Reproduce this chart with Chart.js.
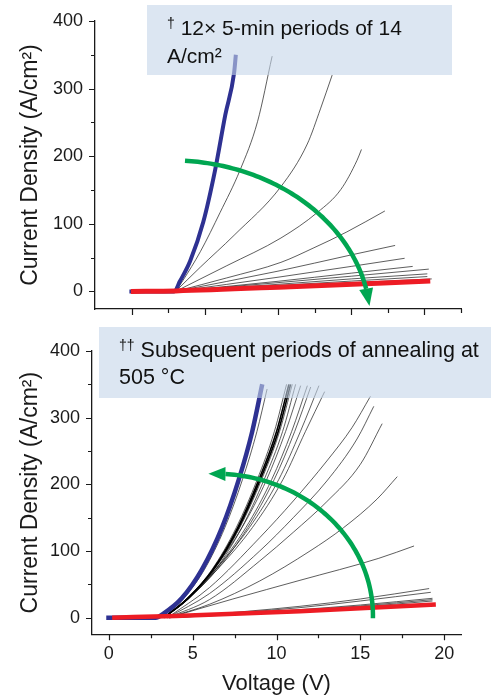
<!DOCTYPE html>
<html lang="en">
<head>
<meta charset="UTF-8">
<title>Current density vs voltage</title>
<script src="https://cdn.jsdelivr.net/npm/chart.js"></script>
<style>
    body { margin: 0; width: 491px; height: 698px; position: relative; overflow: hidden; background: #fff;
           font-family: "Liberation Sans", Arial, sans-serif; }
    .panel { position: absolute; left: 0; width: 491px; }
    #topPanel { top: 0; height: 330px; }
    #bottomPanel { top: 330px; height: 368px; }
    .note { position: absolute; box-sizing: border-box; background: rgba(197, 213, 233, 0.6); color: #111;
            font-size: 21px; line-height: 25px; padding-left: 20px; white-space: nowrap; }
    .note .dag { font-size: 14px; position: relative; top: -7px; }
</style>
</head>
<body>

<div class="panel" id="topPanel"><canvas id="topChart"></canvas></div>
<div class="panel" id="bottomPanel"><canvas id="bottomChart"></canvas></div>

<div class="note" style="left:147px; top:5px; width:305px; height:70px; padding-top:10px;"><span class="dag">†</span> 12× 5-min periods of 14<br>A/cm²</div>
<div class="note" style="left:99px; top:327px; width:392px; height:71px; padding-top:11px; font-size:21.5px;"><span class="dag">††</span> Subsequent periods of annealing at<br>505 °C</div>

<script>
    // tick values
    const xMajor = [0, 5, 10, 15, 20];
    const xMinorTop = [2.5, 7.5, 12.5, 17.5, 22.5];
    const xMinorBottom = [2.5, 7.5, 12.5, 17.5];
    const yMajor = [0, 100, 200, 300, 400];
    const yMinor = [50, 150, 250, 350];

    // top panel: [voltage, current density]
    const topRed = [[-0.05, 0], [3, 0.8], [10.85, 7], [20.4, 15.5]];
    const topBlue = [[-0.15, 0], [2.9, 0], [3.3, 15], [4.0, 45], [4.9, 103], [5.7, 179], [6.4, 261], [7.0, 323], [7.12, 350]];
    const topThin = [
        [[3.0, 0], [3.5, 16], [4.7, 59], [6.05, 117], [7.4, 179], [8.6, 251], [9.6, 348]],
        [[3.0, 0], [4.7, 36], [7.0, 83], [10.2, 155], [12.0, 218], [12.9, 270], [13.7, 320]],
        [[3.0, 0], [6.5, 38], [10.2, 79], [12.7, 117], [14.3, 151], [15.4, 194], [15.7, 210]],
        [[3.0, 0], [6.5, 20], [10.2, 43], [12.4, 64], [14.7, 88], [17.3, 119]],
        [[3.0, 0], [10, 30], [15, 54], [18.0, 68]],
        [[3.0, 0], [10, 21], [15, 37], [18.65, 49]],
        [[3.0, 0], [10, 15], [15, 27], [19.2, 37]],
        [[3.0, 0], [10, 13], [15, 22.5], [20.3, 33]],
        [[3.0, 0], [10, 10.5], [15, 18.5], [20.2, 26]],
        [[3.0, 0], [10, 8.8], [15, 15.3], [20.2, 22]],
        [[3.0, 0], [10, 7.3], [15, 12.7], [20.5, 18.5]]
    ];

    // bottom panel
    const bottomRed = [[0.2, 0], [4, 2.5], [11.4, 9.5], [19.5, 19.7]];
    const bottomBlue = [[-0.15, 0], [2.8, 0], [3.2, 5], [4.35, 29], [5.55, 72], [6.75, 135], [7.75, 207], [8.55, 279], [9.15, 350]];
    const bottomBold = [
        [[3.3, 0], [4.71, 29], [6.2, 72], [7.69, 135], [8.95, 207], [10.0, 279], [10.74, 350]],
        [[3.3, 0], [4.73, 29], [6.24, 72], [7.75, 135], [9.03, 207], [10.1, 279], [10.84, 350]]
    ];
    const bottomThin = [
        [[3.3, 0], [4.47, 29], [5.7, 72], [6.92, 135], [7.97, 207], [8.83, 279], [9.44, 343]],
        [[3.3, 0], [4.69, 29], [6.15, 72], [7.6, 135], [8.85, 207], [9.87, 279], [10.6, 350]],
        [[3.3, 0], [4.75, 29], [6.28, 72], [7.81, 135], [9.11, 207], [10.18, 279], [10.94, 350]],
        [[3.3, 0], [4.79, 29], [6.36, 72], [7.93, 135], [9.26, 207], [10.36, 279], [11.14, 350]],
        [[3.3, 0], [4.68, 29], [6.23, 72], [7.94, 135], [9.41, 207], [10.54, 279], [11.44, 348]],
        [[3.3, 0], [4.75, 29], [6.37, 72], [8.17, 135], [9.71, 207], [10.9, 279], [11.84, 348]],
        [[3.3, 0], [4.79, 29], [6.45, 72], [8.28, 135], [9.86, 207], [11.08, 279], [12.04, 346]],
        [[3.3, 0], [4.68, 29], [6.35, 72], [8.38, 135], [10.13, 207], [11.42, 279], [12.53, 348]],
        [[3.3, 0], [4.74, 29], [6.46, 72], [8.56, 135], [10.38, 207], [11.72, 279], [12.87, 339]],
        [[3.5, 0], [6, 45], [9, 120], [11, 175], [13, 235], [14.5, 285], [15.6, 332]],
        [[3.5, 0], [6, 36], [9, 100], [11, 150], [13, 205], [14.8, 268], [15.8, 317]],
        [[3.5, 0], [6, 27], [9, 85], [11, 128], [13, 174], [15, 230], [16.3, 291]],
        [[3.5, 0], [6, 20], [9, 55], [12, 100], [14, 135], [16, 178], [17.2, 211.5]],
        [[3.6, 0], [7.4, 28], [11.4, 56], [16.1, 89], [18.2, 107.5]],
        [[3.6, 0], [8, 9], [11.4, 17], [15, 28], [19.1, 43.6]],
        [[3.6, 0], [8, 8], [11.4, 15], [15, 25], [19.2, 38]],
        [[3.6, 0], [8, 6], [11.4, 12], [15, 19], [19.3, 29]],
        [[3.6, 0], [8, 5.5], [11.4, 11], [15, 17.5], [19.3, 27]],
        [[3.6, 0], [8, 5], [11.4, 10], [15, 16], [19.3, 25]]
    ];

    // green arrows: ellipse arcs in data units (centre, radii, angles in degrees)
    const topArrow = { cx: 2.62, cy: -46, rx: 13.7, ry: 240, from: 85.7, to: 12, tip: 5.8 };
    const bottomArrow = { cx: 6.35, cy: 2.9, rx: 9.4, ry: 213, from: -1, to: 86.3, tip: 92.5 };

    const FONT = '"Liberation Sans", Arial, sans-serif';
    const INK = '#1a1a1a';
    const GREEN = '#00a651';
    const BLUE = '#2e3192';
    const RED = '#ed1c24';

    function toXY(pts) {
        return pts.map(p => ({ x: p[0], y: p[1] }));
    }

    // first dataset is painted last, so red goes on top
    function buildDatasets(red, blue, bold, thin, redW, blueW) {
        const sets = [
            { data: toXY(red), borderColor: RED, borderWidth: redW },
            { data: toXY(blue), borderColor: BLUE, borderWidth: blueW }
        ];
        bold.forEach(c => sets.push({ data: toXY(c), borderColor: '#000', borderWidth: 1.6 }));
        thin.forEach(c => sets.push({ data: toXY(c), borderColor: 'rgba(30,30,30,0.8)', borderWidth: 0.9 }));
        return sets.map(s => Object.assign(s, { pointRadius: 0, cubicInterpolationMode: 'monotone', fill: false }));
    }

    const decorations = {
        id: 'decorations',
        afterDraw(chart, args, opts) {
            const { ctx, scales: { x, y } } = chart;
            ctx.save();
            ctx.strokeStyle = INK;
            ctx.lineWidth = 1.2;
            ctx.beginPath();
            yMajor.concat(yMinor).forEach(v => {
                const py = Math.round(y.getPixelForValue(v)) + 0.5;
                const len = yMajor.includes(v) ? 6 : 4;
                ctx.moveTo(x.left - len, py);
                ctx.lineTo(x.left, py);
            });
            xMajor.concat(opts.xMinor).forEach(v => {
                const px = Math.round(x.getPixelForValue(v)) + 0.5;
                const len = xMajor.includes(v) ? 6 : 4;
                ctx.moveTo(px, y.bottom);
                ctx.lineTo(px, y.bottom + len);
            });
            ctx.stroke();

            const a = opts.arrow;
            const pt = deg => {
                const t = deg * Math.PI / 180;
                return [x.getPixelForValue(a.cx + a.rx * Math.cos(t)), y.getPixelForValue(a.cy + a.ry * Math.sin(t))];
            };
            ctx.strokeStyle = GREEN;
            ctx.fillStyle = GREEN;
            ctx.lineWidth = 4.5;
            ctx.beginPath();
            for (let i = 0; i <= 80; i++) {
                const p = pt(a.from + (a.to - a.from) * i / 80);
                if (i === 0) ctx.moveTo(p[0], p[1]); else ctx.lineTo(p[0], p[1]);
            }
            ctx.stroke();
            const b = pt(a.to), tip = pt(a.tip);
            const dx = tip[0] - b[0], dy = tip[1] - b[1], L = Math.hypot(dx, dy);
            const nx = -dy / L * 7, ny = dx / L * 7;
            ctx.beginPath();
            ctx.moveTo(tip[0], tip[1]);
            ctx.lineTo(b[0] + nx, b[1] + ny);
            ctx.lineTo(b[0] - nx, b[1] - ny);
            ctx.closePath();
            ctx.fill();
            ctx.restore();
        }
    };

    function makeChart(id, o) {
        return new Chart(document.getElementById(id), {
            type: 'line',
            data: { datasets: o.datasets },
            plugins: [decorations],
            options: {
                responsive: true,
                maintainAspectRatio: false,
                animation: false,
                layout: { padding: { top: o.top, right: 30, left: 0, bottom: 0 } },
                plugins: {
                    legend: { display: false },
                    tooltip: { enabled: false },
                    decorations: { xMinor: o.xMinor, arrow: o.arrow }
                },
                scales: {
                    x: {
                        type: 'linear', min: o.xMin, max: o.xMax,
                        grid: { display: false, drawTicks: false },
                        border: { color: INK, width: 1.3 },
                        afterFit: s => { s.height = o.xHeight; },
                        afterBuildTicks: s => { s.ticks = xMajor.map(v => ({ value: v })); },
                        ticks: { display: o.xLabels, autoSkip: false, maxRotation: 0, padding: 11, color: INK,
                                 font: { size: 18, lineHeight: 1, family: FONT } },
                        title: { display: o.xLabels, text: 'Voltage (V)', color: INK,
                                 font: { size: 22, family: FONT }, padding: { top: 0, bottom: 1 } }
                    },
                    y: {
                        type: 'linear', min: o.yMin, max: 400,
                        grid: { display: false, drawTicks: false },
                        border: { color: INK, width: 1.3 },
                        afterFit: s => { s.width = o.yWidth; },
                        afterBuildTicks: s => { s.ticks = yMajor.map(v => ({ value: v })); },
                        ticks: { padding: 12, color: INK, font: { size: 18, lineHeight: 1, family: FONT } },
                        title: { display: true, text: 'Current Density (A/cm²)', color: INK,
                                 font: { size: 23, family: FONT }, padding: { top: 16.7, bottom: 0 } }
                    }
                }
            }
        });
    }

    makeChart('topChart', {
        datasets: buildDatasets(topRed, topBlue, [], topThin, 5, 4),
        top: 20, xHeight: 14, yWidth: 95, xMin: -2.5, xMax: 22.5, yMin: -26,
        xLabels: false, xMinor: xMinorTop, arrow: topArrow
    });

    makeChart('bottomChart', {
        datasets: buildDatasets(bottomRed, bottomBlue, bottomBold, bottomThin, 4.5, 4.5),
        top: 9, xHeight: 63.7, yWidth: 92, xMin: -1, xMax: 21, yMin: -25,
        xLabels: true, xMinor: xMinorBottom, arrow: bottomArrow
    });
</script>
</body>
</html>
